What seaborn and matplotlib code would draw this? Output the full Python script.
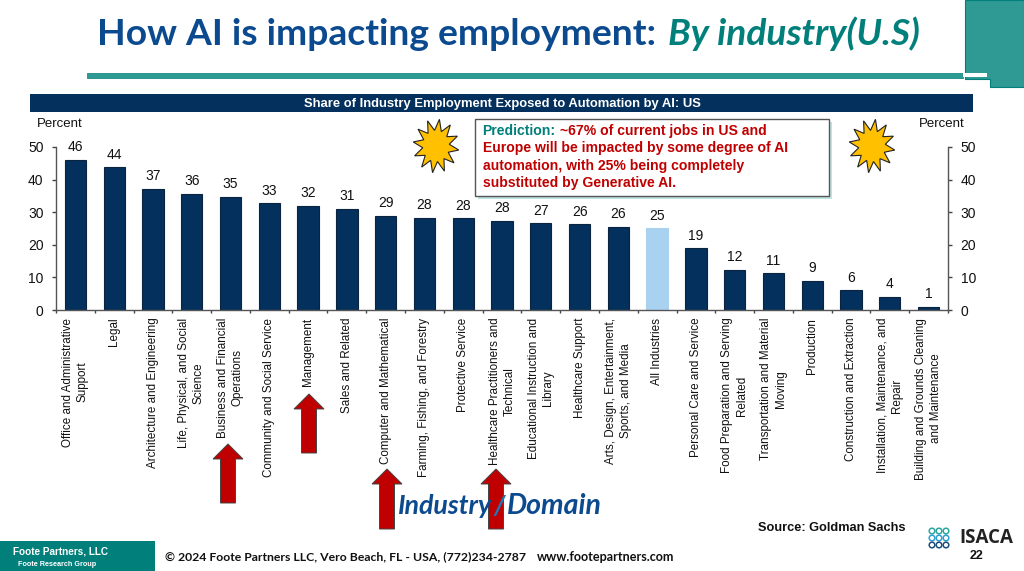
import matplotlib
matplotlib.use("Agg")
import matplotlib.pyplot as plt
import numpy as np
import pandas as pd
import seaborn as sns
from matplotlib.patches import Polygon, Rectangle

categories = [
    "Office and Administrative\nSupport", "Legal", "Architecture and Engineering",
    "Life, Physical, and Social\nScience", "Business and Financial\nOperations",
    "Community and Social Service", "Management", "Sales and Related",
    "Computer and Mathematical", "Farming, Fishing, and Forestry", "Protective Service",
    "Healthcare Practitioners and\nTechnical", "Educational Instruction and\nLibrary",
    "Healthcare Support", "Arts, Design, Entertainment,\nSports, and Media", "All Industries",
    "Personal Care and Service", "Food Preparation and Serving\nRelated",
    "Transportation and Material\nMoving", "Production", "Construction and Extraction",
    "Installation, Maintenance, and\nRepair", "Building and Grounds Cleaning\nand Maintenance",
]
values = [46, 43.8, 37.2, 35.6, 34.8, 32.8, 32, 31, 28.9, 28.3, 28.1, 27.4, 26.6, 26.3, 25.6,
          25, 19, 12.3, 11.2, 9, 6, 4, 1]
value_labels = ["46", "44", "37", "36", "35", "33", "32", "31", "29", "28", "28", "28", "27",
                "26", "26", "25", "19", "12", "11", "9", "6", "4", "1"]
y_ticks = [0, 10, 20, 30, 40, 50]

arrow_tips = [(228, 444, 503), (309, 394, 453), (387, 469, 529), (496, 469, 529)]
star_centers = [(436, 146), (872, 146)]

NAVY = "#03305c"
TEAL = "#2f9a93"
DARK_TEAL = "#007f7b"
BLUE = "#0b4a8f"
RED = "#c00000"
LIGHT = "#a9d2f0"

sns.set_theme(style="white")
plt.rcParams["font.family"] = ["Liberation Sans", "DejaVu Sans"]

df = pd.DataFrame({"industry": categories, "share": values})
colors = [LIGHT if c == "All Industries" else NAVY for c in categories]

fig = plt.figure(figsize=(10.24, 5.71), dpi=100)

# chart
ax = fig.add_axes([56 / 1024, 1 - 310 / 571, (948 - 56) / 1024, (310 - 147) / 571], zorder=1)
ax.patch.set_alpha(0)
sns.barplot(data=df, x="industry", y="share", hue="industry", palette=colors, legend=False,
            width=0.55, saturation=1, edgecolor="#0a2440", linewidth=0.8, ax=ax)
ax.patches[15].set_edgecolor(LIGHT)
ax.set_xlim(-0.5, 22.5)
ax.set_ylim(0, 50)
ax.set_xlabel("")
ax.set_ylabel("")
ax.set_yticks(y_ticks)
ax.tick_params(axis="y", labelsize=10, length=3, width=1, color="#444444", pad=6,
               labelcolor="#111111", left=True, right=True, labelright=True)
ax.set_xticks(np.arange(-0.5, 23, 1))
ax.set_xticklabels([])
ax.tick_params(axis="x", bottom=True, length=2, width=1, color="#444444")
ax.spines["top"].set_visible(False)
for s in ["left", "right", "bottom"]:
    ax.spines[s].set_color("#555555")
    ax.spines[s].set_linewidth(1)

for i, (name, v, lab) in enumerate(zip(categories, values, value_labels)):
    ax.annotate(lab, (i, v), xytext=(0, 4), textcoords="offset points", ha="center", va="bottom",
                fontsize=10, color="#111111")
    ax.annotate(name, (i, 0), xytext=(0, -5.5), textcoords="offset points", xycoords=("data", "axes fraction"),
                rotation=90, ha="center", va="top", ma="center", fontsize=8.4, color="#111111",
                linespacing=1.28)

# slide furniture on top, in pixel coords
top = fig.add_axes([0, 0, 1, 1], zorder=2)
top.set_xlim(0, 1024)
top.set_ylim(571, 0)
top.axis("off")

# title
top.text(97, 45, "How AI is impacting employment:", fontsize=26.8, fontweight="bold", color=BLUE,
         family="Lato", va="baseline", ha="left")
top.text(668, 45, "By industry(U.S)", fontsize=26.7, fontweight="bold", style="italic", color=DARK_TEAL,
         family="Lato", va="baseline", ha="left")
top.add_patch(Polygon([(965, 0), (1024, 0), (1024, 87), (990, 87), (990, 79), (965, 79)], closed=True,
                      fc=TEAL, ec=DARK_TEAL, lw=0.8))
top.add_patch(Rectangle((87, 73), 876, 5, fc=TEAL, ec=DARK_TEAL, lw=0.5))
top.add_patch(Rectangle((963, 73), 24, 4, fc="white", ec="none"))

# chart header band
top.add_patch(Rectangle((30, 94), 943, 18, color=NAVY, lw=0))
top.text(502, 103.5, "Share of Industry Employment Exposed to Automation by AI: US", color="white",
         fontsize=9.4, fontweight="bold", ha="center", va="center")
top.text(37, 124, "Percent", fontsize=9.5, color="#111111", va="center")
top.text(919, 124, "Percent", fontsize=9.5, color="#111111", va="center")

# prediction box
top.add_patch(Rectangle((478, 122), 354, 77, color="#bfe3e3", lw=0))
top.add_patch(Rectangle((475, 119), 354, 77, fc="white", ec="#555555", lw=1))
top.text(482, 131, "Prediction:", color=DARK_TEAL, fontsize=10.1, fontweight="bold", va="center")
top.text(560, 131, "~67% of current jobs in US and", color=RED, fontsize=10.1, fontweight="bold", va="center")
for y, line in zip([148, 166, 183], ["Europe will be impacted by some degree of AI",
                                     "automation, with 25% being completely",
                                     "substituted by Generative AI."]):
    top.text(483, y, line, color=RED, fontsize=10.1, fontweight="bold", va="center")

# stars
for cx, cy in star_centers:
    n = 12
    ang = np.linspace(0, 2 * np.pi, 2 * n, endpoint=False) - np.pi / 2 + 0.15
    rad = np.where(np.arange(2 * n) % 2 == 0, 1.0, 0.58)
    pts = np.column_stack([cx + 23 * rad * np.cos(ang), cy + 27 * rad * np.sin(ang)])
    top.add_patch(Polygon(pts, closed=True, fc="#ffc000", ec="#222222", lw=0.8))

# arrows
for x, y0, y1 in arrow_tips:
    pts = [(x, y0), (x + 15, y0 + 15), (x + 7.5, y0 + 15), (x + 7.5, y1), (x - 7.5, y1), (x - 7.5, y0 + 15),
           (x - 15, y0 + 15)]
    top.add_patch(Polygon(pts, closed=True, fc=RED, ec="#444444", lw=0.7))

top.text(398, 514, "Industry", fontsize=19.3, fontweight="bold", style="italic", color=BLUE, family="Lato",
         va="baseline", ha="left")
top.text(493, 514, "/", fontsize=19.3, fontweight="bold", style="italic", color="#1f77b4", family="Lato",
         va="baseline", ha="left")
top.text(507, 514, "Domain", fontsize=20.5, fontweight="bold", style="italic", color=BLUE, family="Lato",
         va="baseline", ha="left")

# footer
top.add_patch(Rectangle((0, 541), 155, 30, color=DARK_TEAL, lw=0))
top.text(13, 551, "Foote Partners, LLC", color="white", fontsize=7.2, fontweight="bold", va="center")
top.text(18, 564, "Foote Research Group", color="white", fontsize=5.2, fontweight="bold", va="center")
top.text(165, 557, "© 2024 Foote Partners LLC, Vero Beach, FL - USA, (772)234-2787", color="#111111",
         fontsize=8.8, fontweight="bold", family="Lato", va="center")
top.text(537, 557, "www.footepartners.com", color="#111111", fontsize=9.1, fontweight="bold", family="Lato",
         va="center")
top.text(758, 528, "Source: Goldman Sachs", color="#111111", fontsize=9.2, fontweight="bold", va="center")
top.text(959, 538, "ISACA", color="#222222", fontsize=13.5, fontweight="bold", family="Open Sans", va="center")
top.text(977, 556, "22", color="#111111", fontsize=9, fontweight="bold", ha="center", va="center")
for i in range(3):
    for j in range(3):
        top.add_patch(plt.Circle((932 + i * 7, 531 + j * 7), 2.8, fc="none",
                                 ec=["#2aa5a0", "#2f9fd1", "#1c4f7c"][j], lw=1.1))

fig.savefig("out.png", dpi=100)
